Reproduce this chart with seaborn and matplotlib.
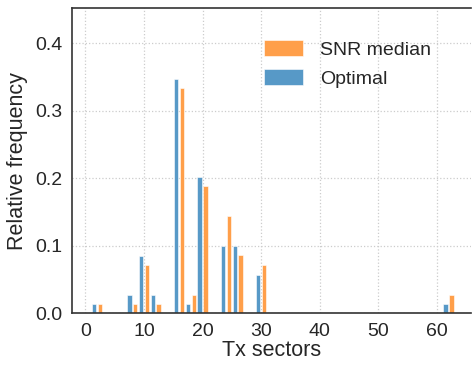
import matplotlib
matplotlib.use("Agg")
import matplotlib.pyplot as plt
import seaborn as sns
import pandas as pd

sectors = [2, 8, 10, 12, 16, 18, 20, 24, 26, 30, 62]
optimal = [0.0135, 0.027, 0.085, 0.027, 0.347, 0.0135, 0.202, 0.100, 0.100, 0.056, 0.0135]
snr_median = [0.0135, 0.0135, 0.071, 0.0135, 0.333, 0.027, 0.188, 0.144, 0.0855, 0.071, 0.027]
series_names = ["Optimal", "SNR median"]
xticks = [0, 10, 20, 30, 40, 50, 60]
yticks = [0.0, 0.1, 0.2, 0.3, 0.4]

df = pd.DataFrame({
    "sector": sectors * 2,
    "freq": optimal + snr_median,
    "method": [series_names[0]] * len(sectors) + [series_names[1]] * len(sectors),
})

sns.set_theme(style="white")
plt.rcParams["font.family"] = ["Liberation Sans", "DejaVu Sans"]

fig = plt.figure(figsize=(4.72, 3.67), dpi=100)
ax = fig.add_axes([0.1525, 0.147, 0.845, 0.831])

palette = {"Optimal": "#5799C7", "SNR median": "#FF9F4A"}
sns.barplot(data=df, x="sector", y="freq", hue="method", hue_order=series_names,
            palette=palette, native_scale=True, width=1.0, gap=0.25,
            edgecolor="white", linewidth=0.4, saturation=1, ax=ax, legend=True)

ax.set_xlim(-2.3, 65.8)
ax.set_ylim(0, 0.452)
ax.set_xticks(xticks)
ax.set_xticklabels([str(t) for t in xticks])
ax.set_yticks(yticks)
ax.set_yticklabels([f"{t:.1f}" for t in yticks])
ax.tick_params(labelsize=14, colors="#262626", length=0, pad=7)
ax.set_xlabel("Tx sectors", fontsize=15.5, color="#262626", labelpad=0)
ax.set_ylabel("Relative frequency", fontsize=15.5, color="#262626", labelpad=5)
ax.grid(True, linestyle=":", color="#cccccc", linewidth=0.9)
ax.set_axisbelow(True)
for side in ["left", "bottom", "top"]:
    ax.spines[side].set_color("#333333")
    ax.spines[side].set_linewidth(1.2)
ax.spines["right"].set_visible(False)

handles, labels = ax.get_legend_handles_labels()
order = [labels.index("SNR median"), labels.index("Optimal")]
ax.legend([handles[i] for i in order], [labels[i] for i in order],
          frameon=False, fontsize=14, loc="upper left",
          bbox_to_anchor=(0.4375, 0.952), handlelength=2.0, handleheight=0.85,
          handletextpad=0.9, labelspacing=0.55)

fig.savefig("out.png", dpi=100)
